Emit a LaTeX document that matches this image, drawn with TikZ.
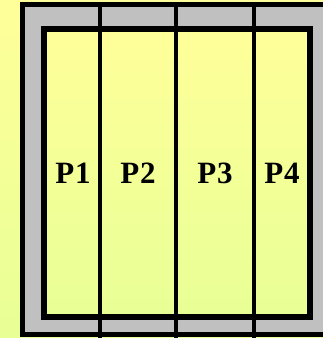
\documentclass[tikz,border=0pt]{standalone}
\usepackage{fontspec}
\setmainfont{Liberation Serif}
\usetikzlibrary{positioning}
\definecolor{paleyellow}{HTML}{FFFF99}
\definecolor{limeyellow}{HTML}{E8FF96}
\definecolor{framegray}{HTML}{C0C0C0}

\begin{document}
\begin{tikzpicture}[x=1pt, y=1pt,
    shade/.style={top color=paleyellow, bottom color=limeyellow},
    wall/.style={draw=black, line width=5pt},
    post/.style={draw=black, line width=4.5pt},
    part/.style={font=\fontsize{31}{31}\selectfont\bfseries, inner sep=0pt}
]

% Background
\path[shade] (0,0) rectangle (323,338);
\useasboundingbox (0,0) rectangle (323,338);

\begin{scope}
\clip (0,0) rectangle (323,338);
% Outer frame
\draw[wall, fill=framegray] (22,333) rectangle (345,3);
% Inner area
\path[shade] (44,309) rectangle (310,21);
% Posts
\foreach \x in {100,176,254}
  \draw[post] (\x,333) -- (\x,-5);
\draw[wall, line width=6pt] (44,309) rectangle (310,21);
\end{scope}

% Labels
\node[part] (p1) at (73,165) {P\kern1pt1};
\node[part] (p2) at (138,165) {P\kern1pt2};
\node[part] (p3) at (215,165) {P\kern1pt3};
\node[part] (p4) at (282,165) {P\kern1pt4};

\end{tikzpicture}
\end{document}
